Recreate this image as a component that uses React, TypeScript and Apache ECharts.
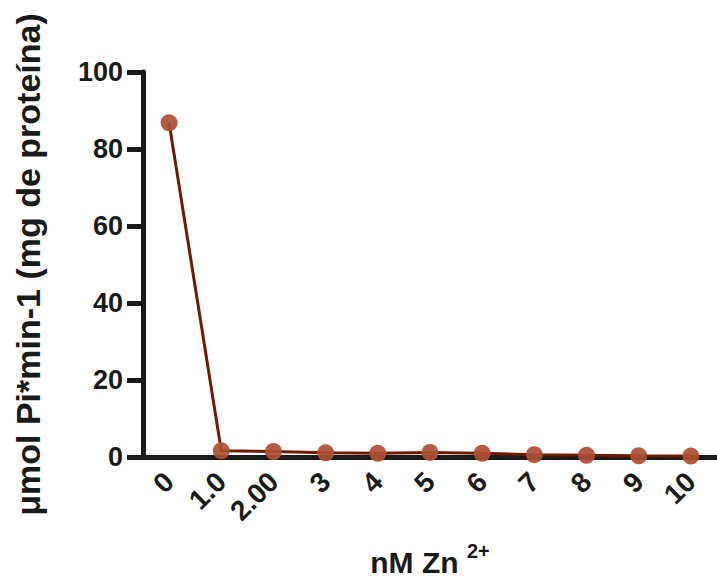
import React, { useEffect, useRef } from "react";
import * as echarts from "echarts";

const categories = ["0", "1.0", "2.00", "3", "4", "5", "6", "7", "8", "9", "10"];
const activity = [86.8, 1.6, 1.4, 1.1, 0.95, 1.2, 0.95, 0.6, 0.45, 0.3, 0.25];
const yTicks = { min: 0, max: 100, interval: 20 };

export default function App() {
  const ref = useRef<HTMLDivElement>(null);
  useEffect(() => {
    if (!ref.current) return;
    const chart = echarts.init(ref.current, undefined, { renderer: "svg" });
    const font = "'Liberation Sans', Arial, sans-serif";
    chart.setOption({
      animation: false,
      grid: { left: 143, right: 0, top: 72, bottom: 124, containLabel: false, outerBoundsMode: "none" },
      xAxis: {
        type: "category",
        data: categories,
        boundaryGap: true,
        name: "{b|nM Zn }{s|2+}",
        nameLocation: "middle",
        nameGap: 88,
        nameTextStyle: {
          rich: {
            b: { fontFamily: font, fontWeight: "bold", fontSize: 30, color: "#1a1a1a", lineHeight: 34 },
            s: { fontFamily: font, fontWeight: "bold", fontSize: 20, color: "#1a1a1a", lineHeight: 34, padding: [0, 0, 22, 0] },
          },
        },
        axisLine: { lineStyle: { color: "#1a1a1a", width: 5 } },
        axisTick: { alignWithLabel: true, length: 16, lineStyle: { color: "#1a1a1a", width: 5 } },
        axisLabel: {
          rotate: 45,
          margin: 20,
          fontFamily: font,
          fontWeight: "bold",
          fontSize: 28,
          color: "#1a1a1a",
          interval: 0,
        },
      },
      yAxis: {
        type: "value",
        min: yTicks.min,
        max: yTicks.max,
        interval: yTicks.interval,
        name: "μmol Pi*min-1 (mg de proteína)",
        nameLocation: "middle",
        nameGap: 98,
        nameTextStyle: { fontFamily: font, fontWeight: "bold", fontSize: 34, color: "#1a1a1a" },
        splitLine: { show: false },
        axisLine: { show: true, lineStyle: { color: "#1a1a1a", width: 5 } },
        axisTick: { show: true, length: 16, lineStyle: { color: "#1a1a1a", width: 5 } },
        axisLabel: { margin: 20, fontFamily: font, fontWeight: "bold", fontSize: 27, color: "#1a1a1a" },
      },
      series: [
        {
          type: "line",
          data: activity,
          symbol: "circle",
          symbolSize: 17,
          itemStyle: { color: "rgba(172, 80, 52, 0.92)" },
          lineStyle: { color: "#6e1a05", width: 3 },
          z: 3,
        },
      ],
    });
    return () => chart.dispose();
  }, []);
  return <div ref={ref} style={{ width: 717, height: 581, position: "absolute", left: 0, top: 0 }} />;
}
